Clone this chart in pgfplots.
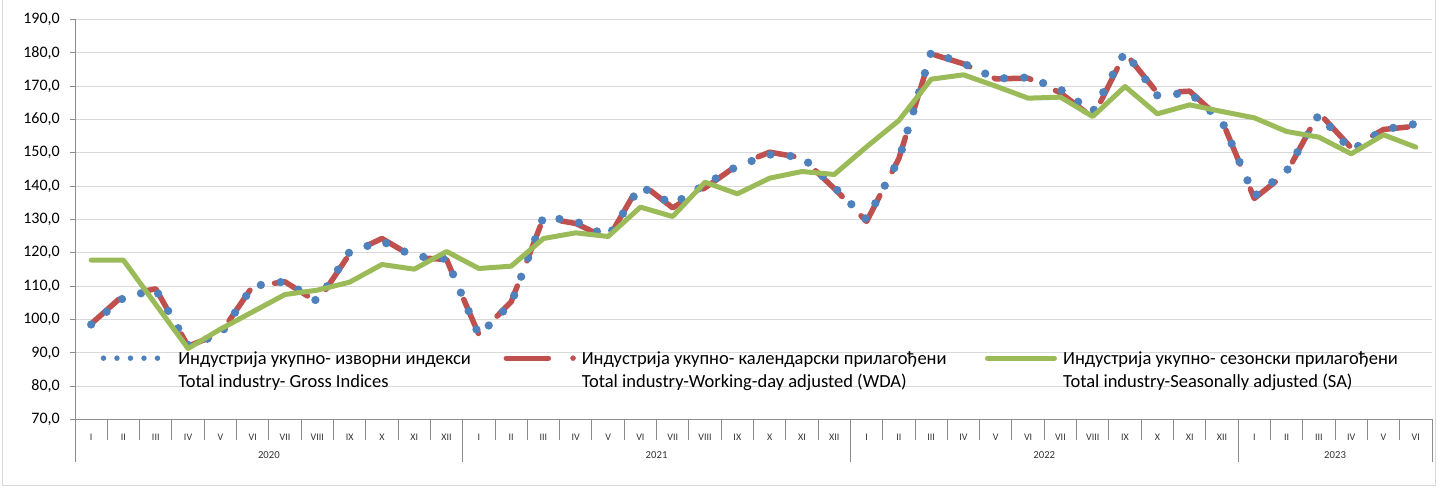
\documentclass[border=0pt]{standalone}
\usepackage{pgfplots}
\pgfplotsset{compat=1.18}
\usepackage{pgfplotstable}
\usepackage{fontspec}
\setmainfont{Carlito}
\definecolor{cblue}{HTML}{4F81BD}
\definecolor{cred}{HTML}{C0504D}
\definecolor{cgreen}{HTML}{9BBB59}
\definecolor{gridc}{HTML}{D9D9D9}
\definecolor{axc}{HTML}{8C8C8C}
\pgfplotstableread{
x wda gross sa
0.5 98.7 98.5 117.8
1.5 107.3 106.5 117.8
2.5 109.2 109.0 104.5
3.5 92.0 92.3 91.3
4.5 95.8 95.5 97.1
5.5 110.0 110.0 102.3
6.5 111.3 111.4 107.5
7.5 105.2 105.5 108.8
8.5 119.7 120.3 111.2
9.5 124.3 123.5 116.5
10.5 118.6 119.0 115.1
11.5 118.0 118.2 120.4
12.5 95.5 95.3 115.3
13.5 105.3 104.8 116.0
14.5 130.5 130.8 124.3
15.5 128.8 129.5 126.0
16.5 124.2 124.8 124.9
17.5 141.0 140.0 133.7
18.5 133.5 134.5 130.9
19.5 139.5 140.5 141.2
20.5 146.3 146.0 137.7
21.5 150.2 149.5 142.4
22.5 148.5 148.8 144.4
23.5 139.3 139.7 143.5
24.5 129.4 130.0 151.8
25.5 148.3 148.0 159.7
26.5 179.7 180.2 172.1
27.5 176.7 176.8 173.4
28.5 172.2 172.3 170.0
29.5 172.4 172.6 166.4
30.5 168.0 169.0 166.7
31.5 160.6 162.3 160.9
32.5 180.0 180.3 169.9
33.5 168.0 167.2 161.7
34.5 168.5 168.0 164.4
35.5 159.7 159.5 162.4
36.5 136.3 137.0 160.5
37.5 144.0 144.5 156.4
38.5 162.0 161.5 154.7
39.5 151.5 150.7 149.7
40.5 157.0 157.0 155.4
41.5 158.0 158.7 151.7
}\datatable
\begin{document}
\begin{tikzpicture}[x=1pt,y=1pt]
\path (0,0) rectangle (1438,487);
\draw[gridc, line width=1pt] (2.5,487) -- (2.5,2) -- (1435.5,2) -- (1435.5,487);
\begin{axis}[
  at={(75pt,68pt)}, anchor=south west,
  scale only axis, width=1357pt, height=400pt,
  xmin=0, xmax=42, ymin=70, ymax=190,
  ytick={70,80,...,190},
  xtick={0.5,1.5,...,41.5},
  xticklabels={I,II,III,IV,V,VI,VII,VIII,IX,X,XI,XII,I,II,III,IV,V,VI,VII,VIII,IX,X,XI,XII,I,II,III,IV,V,VI,VII,VIII,IX,X,XI,XII,I,II,III,IV,V,VI},
  xtick style={draw=none},
  xticklabel style={font=\fontsize{10}{12}\selectfont, text=black!80, anchor=base, yshift=-16.3pt},
  axis x line*=bottom, axis y line*=left,
  axis line style={axc, line width=1pt},
  ymajorgrids, grid style={gridc, line width=1.2pt},
  ytick style={axc, line width=1pt},
  major tick length=5pt, tick align=outside,
  yticklabel style={font=\fontsize{16}{18}\selectfont, inner sep=0pt, xshift=-10pt, /pgf/number format/.cd, fixed, fixed zerofill, precision=1, use comma, assume math mode=true},
  clip=false,
  legend columns=3,
  legend cell align=left,
  legend style={at={(rel axis cs:0.0184,0.17)}, anchor=north west, draw=none, fill=none, inner sep=0pt, outer sep=0pt,
    font=\fontsize{18.5}{23}\selectfont, nodes={inner sep=0pt},
    column sep=0pt,
    /tikz/every odd column/.append style={column sep=6pt}},
]
\addlegendimage{legend image code/.code={
  \path (0pt,0.5pt) (72pt,0.5pt);
  \draw[cblue, line width=5.5pt, line cap=round, dash pattern=on 0pt off 13.5pt] (3.3pt,0.5pt) -- (62pt,0.5pt);}}
\addlegendentry{\parbox[t]{325pt}{Индустрија укупно- изворни индекси\\Total industry- Gross Indices}}
\addlegendimage{legend image code/.code={
  \path (0pt,0.5pt) (72pt,0.5pt);
  \draw[cred, line width=5pt, line cap=round] (2.5pt,0.5pt) -- (45pt,0.5pt);
  \fill[cred] (69.5pt,0.5pt) circle (2.5pt);}}
\addlegendentry{\parbox[t]{403pt}{Индустрија укупно- календарски прилагођени\\Total industry-Working-day adjusted (WDA)}}
\addlegendimage{legend image code/.code={
  \path (0pt,0.5pt) (72pt,0.5pt);
  \draw[cgreen, line width=5pt, line cap=round] (2.5pt,0.5pt) -- (69.5pt,0.5pt);}}
\addlegendentry{\parbox[t]{350pt}{Индустрија укупно- сезонски прилагођени\\Total industry-Seasonally adjusted (SA)}}
\addplot[cred, line width=5.5pt, line cap=round, line join=round, dash pattern=on 37pt off 27pt, forget plot] table[x=x,y=wda]{\datatable};
\addplot[cblue, line width=8.3pt, line cap=round, dash pattern=on 0pt off 20pt, forget plot] table[x=x,y=gross]{\datatable};
\addplot[cgreen, line width=5pt, line cap=round, line join=round, forget plot] table[x=x,y=sa]{\datatable};
\end{axis}
\foreach \i in {1,...,11,13,14,...,23,25,26,...,35,37,38,...,41}
  \draw[axc, line width=1pt] ({75+\i*32.30952},68) -- ++(0,-21);
\foreach \i in {0,12,24,36,42}
  \draw[axc, line width=1pt] ({75+\i*32.30952},68) -- ++(0,-42);
\foreach \yr/\c in {2020/6,2021/18,2022/30,2023/39}
  \node[font=\fontsize{10.7}{12}\selectfont, text=black!80, anchor=base] at ({75+\c*32.30952},29.3) {\yr};
\end{tikzpicture}
\end{document}
